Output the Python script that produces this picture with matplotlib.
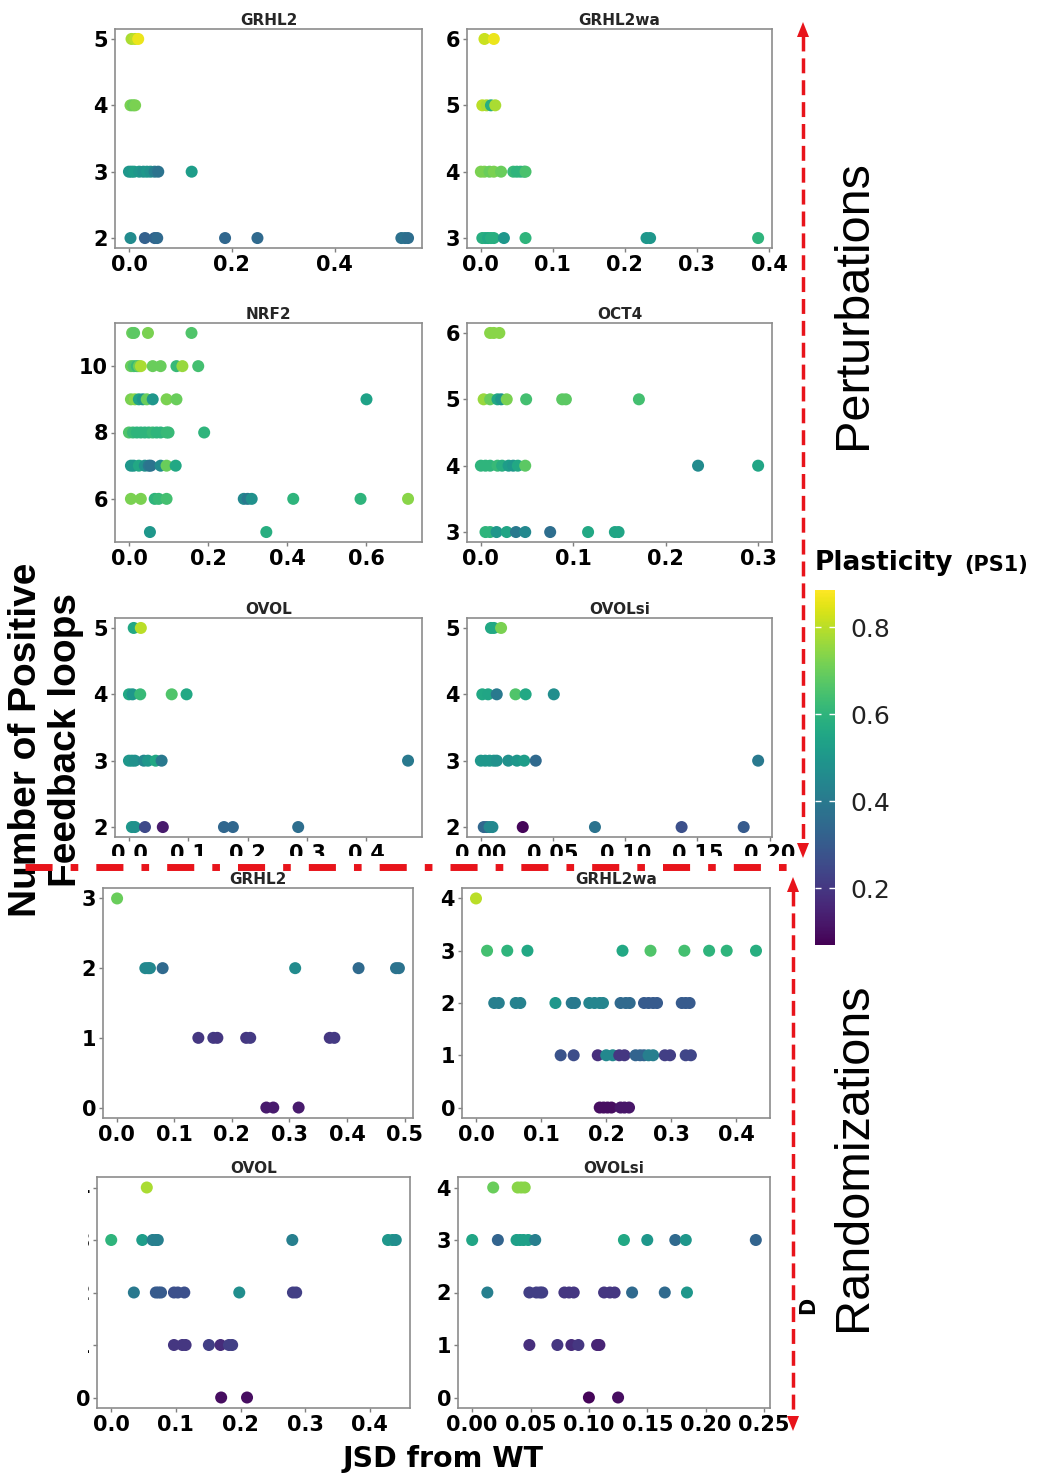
import matplotlib
matplotlib.use("Agg")
import matplotlib.pyplot as plt
from matplotlib.colors import Normalize
from matplotlib.ticker import MultipleLocator, FormatStrFormatter
from matplotlib.lines import Line2D
from matplotlib.patches import Polygon, Rectangle

W, H = 1049, 1474
plt.rcParams['font.family'] = ['DejaVu Sans']
plt.rcParams['font.weight'] = 'bold'

# ---------------- data: JSD from WT, number of positive feedback loops, plasticity (PS1)
# Perturbations
grhl2_p_jsd = [0.005, 0.012, 0.018, 0.003, 0.008, 0.012,
               0.0, 0.005, 0.01, 0.02, 0.028, 0.035, 0.042, 0.05, 0.057, 0.122,
               0.003, 0.031, 0.05, 0.055, 0.187, 0.25, 0.53, 0.537, 0.543]
grhl2_p_loops = [5, 5, 5, 4, 4, 4,
                 3, 3, 3, 3, 3, 3, 3, 3, 3, 3,
                 2, 2, 2, 2, 2, 2, 2, 2, 2]
grhl2_p_ps1 = [0.78, 0.80, 0.86, 0.72, 0.70, 0.72,
               0.50, 0.50, 0.52, 0.50, 0.48, 0.50, 0.48, 0.42, 0.38, 0.52,
               0.46, 0.32, 0.33, 0.35, 0.34, 0.35, 0.37, 0.38, 0.36]

grhl2wa_p_jsd = [0.005, 0.018, 0.002, 0.008, 0.014, 0.02,
                 0.0, 0.005, 0.012, 0.018, 0.028, 0.045, 0.05, 0.055, 0.06, 0.062,
                 0.002, 0.006, 0.01, 0.014, 0.018, 0.032, 0.062, 0.23, 0.235, 0.385]
grhl2wa_p_loops = [6, 6, 5, 5, 5, 5,
                   4, 4, 4, 4, 4, 4, 4, 4, 4, 4,
                   3, 3, 3, 3, 3, 3, 3, 3, 3, 3]
grhl2wa_p_ps1 = [0.82, 0.86, 0.80, 0.78, 0.58, 0.78,
                 0.72, 0.72, 0.70, 0.72, 0.70, 0.62, 0.60, 0.60, 0.60, 0.65,
                 0.58, 0.58, 0.56, 0.58, 0.58, 0.50, 0.60, 0.50, 0.50, 0.60]

nrf2_p_jsd = [0.008, 0.013, 0.048, 0.158,
              0.005, 0.012, 0.02, 0.025, 0.03, 0.06, 0.08, 0.12, 0.135, 0.175,
              0.005, 0.015, 0.025, 0.035, 0.045, 0.06, 0.095, 0.12, 0.6,
              0.0, 0.01, 0.02, 0.03, 0.04, 0.05, 0.06, 0.07, 0.08, 0.095, 0.1, 0.19,
              0.005, 0.012, 0.025, 0.04, 0.05, 0.055, 0.08, 0.095, 0.118,
              0.005, 0.03, 0.065, 0.075, 0.095, 0.29, 0.3, 0.31, 0.415, 0.585, 0.705,
              0.053, 0.347]
nrf2_p_loops = [11, 11, 11, 11,
                10, 10, 10, 10, 10, 10, 10, 10, 10, 10,
                9, 9, 9, 9, 9, 9, 9, 9, 9,
                8, 8, 8, 8, 8, 8, 8, 8, 8, 8, 8, 8,
                7, 7, 7, 7, 7, 7, 7, 7, 7,
                6, 6, 6, 6, 6, 6, 6, 6, 6, 6, 6,
                5, 5]
nrf2_p_ps1 = [0.70, 0.68, 0.72, 0.66,
              0.70, 0.66, 0.62, 0.70, 0.78, 0.70, 0.70, 0.62, 0.76, 0.64,
              0.72, 0.74, 0.55, 0.50, 0.70, 0.50, 0.72, 0.70, 0.54,
              0.66, 0.62, 0.60, 0.60, 0.60, 0.60, 0.62, 0.60, 0.60, 0.62, 0.62, 0.60,
              0.50, 0.50, 0.56, 0.48, 0.40, 0.38, 0.46, 0.70, 0.56,
              0.72, 0.72, 0.60, 0.62, 0.64, 0.45, 0.40, 0.48, 0.60, 0.60, 0.74,
              0.50, 0.58]

oct4_p_jsd = [0.01, 0.014, 0.02,
              0.003, 0.01, 0.018, 0.022, 0.028, 0.049, 0.088, 0.092, 0.171,
              0.0, 0.005, 0.01, 0.018, 0.023, 0.03, 0.035, 0.04, 0.048, 0.235, 0.3,
              0.005, 0.01, 0.017, 0.028, 0.038, 0.048, 0.075, 0.116, 0.145, 0.149]
oct4_p_loops = [6, 6, 6,
                5, 5, 5, 5, 5, 5, 5, 5, 5,
                4, 4, 4, 4, 4, 4, 4, 4, 4, 4, 4,
                3, 3, 3, 3, 3, 3, 3, 3, 3, 3]
oct4_p_ps1 = [0.74, 0.74, 0.74,
              0.76, 0.70, 0.56, 0.50, 0.72, 0.64, 0.68, 0.68, 0.64,
              0.60, 0.60, 0.60, 0.62, 0.58, 0.52, 0.50, 0.56, 0.68, 0.46, 0.55,
              0.60, 0.60, 0.50, 0.55, 0.40, 0.45, 0.36, 0.56, 0.55, 0.55]

ovol_p_jsd = [0.008, 0.02,
              0.0, 0.006, 0.019, 0.072, 0.097,
              0.0, 0.005, 0.01, 0.025, 0.032, 0.045, 0.055, 0.47,
              0.005, 0.01, 0.027, 0.057, 0.16, 0.175, 0.285]
ovol_p_loops = [5, 5,
                4, 4, 4, 4, 4,
                3, 3, 3, 3, 3, 3, 3, 3,
                2, 2, 2, 2, 2, 2, 2]
ovol_p_ps1 = [0.56, 0.80,
              0.56, 0.50, 0.62, 0.66, 0.56,
              0.50, 0.50, 0.48, 0.45, 0.50, 0.56, 0.40, 0.40,
              0.50, 0.48, 0.25, 0.13, 0.34, 0.34, 0.36]

ovolsi_p_jsd = [0.007, 0.009, 0.014,
                0.001, 0.005, 0.011, 0.024, 0.031, 0.0505,
                0.0, 0.003, 0.006, 0.009, 0.011, 0.019, 0.025, 0.03, 0.038, 0.192,
                0.002, 0.004, 0.006, 0.008, 0.029, 0.079, 0.139, 0.182]
ovolsi_p_loops = [5, 5, 5,
                  4, 4, 4, 4, 4, 4,
                  3, 3, 3, 3, 3, 3, 3, 3, 3, 3,
                  2, 2, 2, 2, 2, 2, 2, 2]
ovolsi_p_ps1 = [0.56, 0.56, 0.72,
                0.56, 0.55, 0.40, 0.66, 0.56, 0.47,
                0.50, 0.50, 0.50, 0.50, 0.48, 0.48, 0.50, 0.52, 0.35, 0.40,
                0.34, 0.34, 0.45, 0.45, 0.08, 0.38, 0.27, 0.30]

# Randomizations
grhl2_r_jsd = [0.001,
               0.05, 0.055, 0.058, 0.08, 0.31, 0.42, 0.485, 0.49,
               0.142, 0.168, 0.175, 0.225, 0.232, 0.37, 0.378,
               0.26, 0.272, 0.316]
grhl2_r_loops = [3,
                 2, 2, 2, 2, 2, 2, 2, 2,
                 1, 1, 1, 1, 1, 1, 1,
                 0, 0, 0]
grhl2_r_ps1 = [0.70,
               0.45, 0.45, 0.45, 0.35, 0.46, 0.35, 0.38, 0.38,
               0.20, 0.21, 0.20, 0.20, 0.21, 0.20, 0.21,
               0.13, 0.13, 0.13]

grhl2wa_r_jsd = [0.0,
                 0.017, 0.048, 0.079, 0.225, 0.268, 0.32, 0.358, 0.385, 0.43,
                 0.028, 0.035, 0.061, 0.068, 0.122, 0.147, 0.152, 0.174, 0.182, 0.19, 0.195,
                 0.222, 0.23, 0.236, 0.258, 0.265, 0.272, 0.278, 0.316, 0.322, 0.328,
                 0.13, 0.15, 0.187, 0.2, 0.21, 0.22, 0.228, 0.245, 0.252, 0.258, 0.265,
                 0.272, 0.29, 0.298, 0.322, 0.33,
                 0.19, 0.196, 0.202, 0.208, 0.222, 0.228, 0.235]
grhl2wa_r_loops = [4,
                   3, 3, 3, 3, 3, 3, 3, 3, 3,
                   2, 2, 2, 2, 2, 2, 2, 2, 2, 2, 2,
                   2, 2, 2, 2, 2, 2, 2, 2, 2, 2,
                   1, 1, 1, 1, 1, 1, 1, 1, 1, 1, 1,
                   1, 1, 1, 1, 1,
                   0, 0, 0, 0, 0, 0, 0]
grhl2wa_r_ps1 = [0.80,
                 0.64, 0.60, 0.56, 0.56, 0.66, 0.64, 0.60, 0.60, 0.58,
                 0.42, 0.42, 0.43, 0.43, 0.50, 0.40, 0.40, 0.44, 0.44, 0.44, 0.44,
                 0.35, 0.35, 0.35, 0.30, 0.30, 0.30, 0.30, 0.30, 0.30, 0.30,
                 0.28, 0.26, 0.18, 0.45, 0.45, 0.20, 0.20, 0.33, 0.33, 0.33, 0.42,
                 0.42, 0.22, 0.22, 0.24, 0.24,
                 0.10, 0.10, 0.10, 0.10, 0.12, 0.12, 0.12]

ovol_r_jsd = [0.055,
              0.0, 0.048, 0.064, 0.069, 0.072, 0.28, 0.428, 0.435, 0.44,
              0.035, 0.069, 0.073, 0.077, 0.097, 0.103, 0.113, 0.198, 0.281, 0.286,
              0.097, 0.11, 0.115, 0.151, 0.169, 0.182, 0.187,
              0.17, 0.21]
ovol_r_loops = [4,
                3, 3, 3, 3, 3, 3, 3, 3, 3,
                2, 2, 2, 2, 2, 2, 2, 2, 2, 2,
                1, 1, 1, 1, 1, 1, 1,
                0, 0]
ovol_r_ps1 = [0.78,
              0.60, 0.52, 0.42, 0.42, 0.42, 0.42, 0.50, 0.50, 0.47,
              0.40, 0.30, 0.30, 0.30, 0.27, 0.27, 0.27, 0.47, 0.22, 0.22,
              0.20, 0.20, 0.20, 0.22, 0.17, 0.22, 0.22,
              0.10, 0.10]

ovolsi_r_jsd = [0.018, 0.039, 0.042, 0.045,
                0.0, 0.022, 0.038, 0.041, 0.044, 0.048, 0.054, 0.13, 0.15, 0.174, 0.183, 0.243,
                0.013, 0.049, 0.055, 0.058, 0.06, 0.079, 0.083, 0.087, 0.113, 0.118, 0.122,
                0.137, 0.165, 0.184,
                0.049, 0.073, 0.085, 0.091, 0.107, 0.109,
                0.1, 0.125]
ovolsi_r_loops = [4, 4, 4, 4,
                  3, 3, 3, 3, 3, 3, 3, 3, 3, 3, 3, 3,
                  2, 2, 2, 2, 2, 2, 2, 2, 2, 2, 2,
                  2, 2, 2,
                  1, 1, 1, 1, 1, 1,
                  0, 0]
ovolsi_r_ps1 = [0.70, 0.74, 0.74, 0.74,
                0.55, 0.33, 0.53, 0.53, 0.53, 0.53, 0.42, 0.56, 0.50, 0.35, 0.50, 0.33,
                0.42, 0.22, 0.22, 0.22, 0.22, 0.20, 0.20, 0.20, 0.20, 0.20, 0.20,
                0.35, 0.35, 0.50,
                0.18, 0.20, 0.17, 0.20, 0.15, 0.15,
                0.08, 0.10]

panels = [
    ("GRHL2", grhl2_p_jsd, grhl2_p_loops, grhl2_p_ps1),
    ("GRHL2wa", grhl2wa_p_jsd, grhl2wa_p_loops, grhl2wa_p_ps1),
    ("NRF2", nrf2_p_jsd, nrf2_p_loops, nrf2_p_ps1),
    ("OCT4", oct4_p_jsd, oct4_p_loops, oct4_p_ps1),
    ("OVOL", ovol_p_jsd, ovol_p_loops, ovol_p_ps1),
    ("OVOLsi", ovolsi_p_jsd, ovolsi_p_loops, ovolsi_p_ps1),
    ("GRHL2", grhl2_r_jsd, grhl2_r_loops, grhl2_r_ps1),
    ("GRHL2wa", grhl2wa_r_jsd, grhl2wa_r_loops, grhl2wa_r_ps1),
    ("OVOL", ovol_r_jsd, ovol_r_loops, ovol_r_ps1),
    ("OVOLsi", ovolsi_r_jsd, ovolsi_r_loops, ovolsi_r_ps1),
]

# ---------------- layout (pixel boxes: left, top, right, bottom) and tick steps
boxes = [(115, 29, 422, 248), (467, 29, 772, 248),
         (115, 323, 422, 542), (467, 323, 772, 542),
         (115, 618, 422, 837), (467, 618, 772, 837),
         (103, 888, 413, 1118), (462, 888, 770, 1118),
         (97, 1177, 410, 1408), (458, 1177, 770, 1408)]
x_steps = [0.2, 0.1, 0.2, 0.1, 0.1, 0.05, 0.1, 0.1, 0.1, 0.05]
y_steps = [1, 1, 2, 1, 1, 1, 1, 1, 1, 1]


def fx(x):
    return x / W


def fy(y):
    return 1 - y / H


fig = plt.figure(figsize=(W / 100, H / 100), dpi=100)
norm = Normalize(0.07, 0.885)

for (title, x, y, c), (l, t, r, b), xs, ys in zip(panels, boxes, x_steps, y_steps):
    ax = fig.add_axes([fx(l), fy(b), (r - l) / W, (b - t) / H])
    sc = ax.scatter(x, y, c=c, cmap='viridis', norm=norm, s=75, linewidths=0)
    ax.set_title(title, fontsize=11, fontweight='bold', color='#262626', pad=3)
    ax.xaxis.set_major_locator(MultipleLocator(xs))
    ax.xaxis.set_major_formatter(FormatStrFormatter('%.2f' if xs < 0.1 else '%.1f'))
    ax.yaxis.set_major_locator(MultipleLocator(ys))
    ax.tick_params(length=3, width=1, color='#7f7f7f', labelsize=15, pad=2,
                   labelcolor='black')
    for sp in ax.spines.values():
        sp.set_color('#8c8c8c')
        sp.set_linewidth(1.2)

# colour bar
cax = fig.add_axes([fx(815), fy(945), 20 / W, 355 / H])
cb = fig.colorbar(sc, cax=cax)
cb.outline.set_visible(False)
cax.set_yticks([0.2, 0.4, 0.6, 0.8], labels=['0.2', '0.4', '0.6', '0.8'],
               fontsize=18, fontweight='normal', color='#222222')
cax.tick_params(direction='in', colors='white', length=4, width=1,
                left=True, right=True, labelleft=False, labelright=True, pad=11)
for lab in cax.get_yticklabels():
    lab.set_color('#222222')
fig.text(fx(815), fy(570), 'Plasticity', fontsize=19, fontweight='bold', va='baseline')
fig.text(fx(964), fy(571), '(PS1)', fontsize=15, fontweight='bold', va='baseline')

# axis titles and side labels
fig.text(fx(46), fy(740), 'Number of Positive\nFeedback loops', rotation=90,
         ha='center', va='center', fontsize=28, fontweight='bold',
         family='Liberation Sans', linespacing=1.12, multialignment='center')
fig.text(fx(443), fy(1459), 'JSD from WT', ha='center', va='center',
         fontsize=20.5, fontweight='bold')
fig.text(fx(853), fy(305), 'Perturbations', rotation=90, ha='center', va='center',
         fontsize=35, fontweight='normal', family='Liberation Sans')
fig.text(fx(853), fy(1157), 'Randomizations', rotation=90, ha='center', va='center',
         fontsize=35, fontweight='normal', family='Liberation Sans')
fig.text(fx(808), fy(1305), 'D', rotation=90, ha='center', va='center',
         fontsize=15, fontweight='bold')

# white masks seen in the composite
fig.add_artist(Rectangle((fx(85), fy(863)), 715 / W, 7 / H, facecolor='white',
                         edgecolor='none', zorder=5))
fig.add_artist(Rectangle((fx(50), fy(1365)), 38 / W, 187 / H, facecolor='white',
                         edgecolor='none', zorder=5))

# red separators and arrows
red = '#e8141b'
fig.add_artist(Line2D([fx(25), fx(790)], [fy(866.5), fy(866.5)], color=red, lw=5,
                      linestyle=(0, (3.9, 2.6, 1.1, 2.6)), dash_capstyle='butt',
                      zorder=10))


def dashed_arrow(x, top, bottom):
    fig.add_artist(Line2D([fx(x), fx(x)], [fy(top + 14), fy(bottom - 14)], color=red,
                          lw=2.5, linestyle=(0, (4.3, 2.0)), dash_capstyle='butt',
                          zorder=10))
    fig.add_artist(Polygon([(fx(x - 6), fy(top + 15)), (fx(x + 6), fy(top + 15)),
                            (fx(x), fy(top))], closed=True, facecolor=red,
                           edgecolor='none', zorder=10))
    fig.add_artist(Polygon([(fx(x - 6), fy(bottom - 15)), (fx(x + 6), fy(bottom - 15)),
                            (fx(x), fy(bottom))], closed=True, facecolor=red,
                           edgecolor='none', zorder=10))


dashed_arrow(803, 22, 858)
dashed_arrow(793, 877, 1431)

fig.savefig('out.png', dpi=100, facecolor='white')
